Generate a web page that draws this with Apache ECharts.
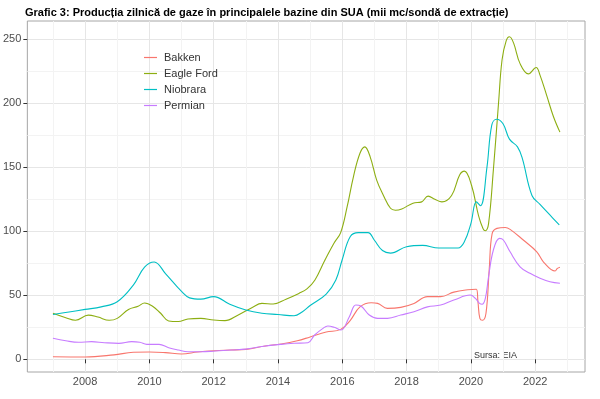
<!DOCTYPE html>
<html>
<head>
<meta charset="utf-8">
<script src="https://cdn.jsdelivr.net/npm/echarts@6/dist/echarts.min.js"></script>
<style>
  html, body { margin: 0; padding: 0; background: #fff; }
  #main { width: 600px; height: 399px; }
</style>
</head>
<body>
<div id="main"></div>
<script>
// date (decimal year), mii mc/sonda
const bakken = [
  [2007.0, 2], [2008.0, 1.8], [2008.9, 3.5], [2009.5, 5.5], [2010.0, 5.7], [2010.5, 5.2],
  [2011.0, 4.2], [2011.5, 5.7], [2012.0, 6.7], [2012.5, 7.3], [2013.0, 7.8], [2013.6, 10.4],
  [2014.1, 12], [2014.6, 14.5], [2015.0, 17.5], [2015.5, 21.3], [2015.95, 23.4], [2016.25, 30.5],
  [2016.55, 41], [2016.9, 44.2], [2017.1, 43.7], [2017.4, 39.8], [2017.82, 40.6], [2018.23, 43.7],
  [2018.65, 49], [2019.06, 49], [2019.47, 52.5], [2019.9, 54.3], [2020.17, 54.7], [2020.22, 45],
  [2020.28, 32], [2020.36, 30.5], [2020.47, 36], [2020.57, 70], [2020.66, 98], [2020.81, 102.3],
  [2021.07, 103], [2021.22, 101.5], [2021.64, 93], [2022.05, 84], [2022.26, 76], [2022.62, 69],
  [2022.69, 71], [2022.77, 72]
]
const eagleFord = [
  [2007.0, 36], [2007.4, 32.5], [2007.7, 30.5], [2008.1, 34.5], [2008.4, 33], [2008.75, 30.5],
  [2009.0, 32], [2009.35, 39], [2009.65, 41.5], [2009.85, 44], [2010.1, 41.5], [2010.35, 36],
  [2010.6, 30], [2010.9, 29.5], [2011.2, 31.5], [2011.6, 32], [2012.0, 30.7], [2012.35, 30.2],
  [2012.75, 34.5], [2013.2, 40.5], [2013.5, 43.7], [2013.85, 43.2], [2014.25, 47], [2014.65, 51.5],
  [2014.9, 55], [2015.15, 62], [2015.45, 77], [2015.75, 91], [2015.95, 99], [2016.15, 119],
  [2016.35, 143], [2016.55, 161], [2016.7, 166], [2016.87, 158], [2017.07, 140], [2017.28, 128],
  [2017.5, 118], [2017.65, 116.5], [2017.85, 117.5], [2018.2, 122], [2018.47, 123], [2018.67, 127.5],
  [2018.88, 125], [2019.1, 123], [2019.4, 128], [2019.65, 144], [2019.8, 147], [2020.02, 136],
  [2020.24, 112], [2020.38, 102], [2020.45, 100.5], [2020.55, 106], [2020.7, 148], [2020.86, 200],
  [2020.97, 234], [2021.1, 249], [2021.2, 252], [2021.33, 247], [2021.53, 231], [2021.79, 223],
  [2022.03, 228], [2022.15, 222], [2022.36, 206], [2022.57, 189.5], [2022.77, 177.5]
]
const niobrara = [
  [2007.0, 35], [2007.5, 37], [2008.0, 39], [2008.5, 41], [2009.0, 45], [2009.5, 58],
  [2009.85, 72], [2010.15, 76], [2010.5, 67], [2011.0, 53], [2011.25, 48], [2011.6, 47],
  [2012.0, 49], [2012.5, 43], [2013.0, 38.5], [2013.5, 36], [2014.0, 35], [2014.5, 34],
  [2014.75, 37], [2015.0, 42], [2015.5, 51], [2015.8, 62], [2016.0, 78], [2016.25, 96],
  [2016.5, 99], [2016.8, 99], [2017.0, 93], [2017.25, 85], [2017.5, 83], [2018.0, 88],
  [2018.5, 89], [2019.0, 87], [2019.6, 87], [2019.8, 92], [2020.0, 106], [2020.17, 123],
  [2020.3, 120], [2020.5, 150], [2020.65, 183], [2020.8, 187.5], [2021.0, 184], [2021.2, 172],
  [2021.45, 166], [2021.6, 157], [2021.9, 128], [2022.15, 121], [2022.45, 113], [2022.75, 105]
]
const permian = [
  [2007.0, 16.4], [2007.4, 14.5], [2007.8, 13.3], [2008.2, 13.8], [2008.6, 13], [2009.05, 12.5],
  [2009.45, 13.8], [2009.7, 13.3], [2009.92, 11.7], [2010.3, 11.7], [2010.6, 9.1], [2010.9, 7.3],
  [2011.2, 5.9], [2011.6, 5.9], [2012.05, 6.5], [2012.55, 7.3], [2013.0, 8], [2013.5, 10],
  [2014.1, 11.7], [2014.5, 12.5], [2014.93, 13], [2015.14, 19], [2015.4, 24.2], [2015.55, 26],
  [2015.75, 25], [2015.96, 22.9], [2016.22, 33.3], [2016.42, 42.4], [2016.58, 41.6], [2016.84, 34.6],
  [2017.1, 32], [2017.41, 32], [2017.82, 34.6], [2018.23, 37.2], [2018.65, 41], [2019.06, 42.4],
  [2019.47, 46.3], [2019.98, 50.2], [2020.14, 47.6], [2020.27, 43.7], [2020.35, 43], [2020.45, 47.6],
  [2020.55, 64.5], [2020.7, 85.4], [2020.89, 94.5], [2021.01, 93.2], [2021.22, 84], [2021.53, 72.3],
  [2021.84, 67.2], [2022.15, 63.3], [2022.46, 60.6], [2022.77, 59.4]
]

const yearTicks = [2008, 2010, 2012, 2014, 2016, 2018, 2020, 2022]
const yearGrid = [2007, 2008, 2009, 2010, 2011, 2012, 2013, 2014, 2015, 2016, 2017, 2018, 2019, 2020, 2021, 2022, 2023]
const valueTicks = [0, 50, 100, 150, 200, 250]
const valueGrid = [0, 25, 50, 75, 100, 125, 150, 175, 200, 225, 250]

const names = ['Bakken', 'Eagle Ford', 'Niobrara', 'Permian']
const colors = ['#F8766D', '#8DAE12', '#00BFC4', '#C77CFF']
const seriesData = [bakken, eagleFord, niobrara, permian]

const X_MIN = 2006.204
const X_MAX = 2023.55
const Y_MIN = -9.9
const Y_MAX = 264.3

const fontFam = '"Liberation Sans", Arial, sans-serif'

const chart = echarts.init(document.getElementById('main'), null, { renderer: 'canvas' })
chart.setOption({
  animation: false,
  backgroundColor: '#fff',
  title: {
    text: 'Grafic 3: Producția zilnică de gaze în principalele bazine din SUA (mii mc/sondă de extracție)',
    left: 20,
    top: 2,
    textStyle: { fontFamily: fontFam, fontSize: 11, fontWeight: 'bold', color: '#000' }
  },
  legend: {
    orient: 'vertical',
    left: 139,
    top: 47,
    icon: 'rect',
    itemWidth: 13,
    itemHeight: 1.2,
    itemGap: 5,
    data: names,
    textStyle: { fontFamily: fontFam, fontSize: 11, color: '#333', padding: [0, 0, 0, 2] }
  },
  grid: {
    left: 25,
    right: 15,
    top: 21,
    bottom: 27,
    show: true,
    borderColor: '#a6a6a6',
    borderWidth: 1,
    backgroundColor: '#fff'
  },
  xAxis: [
    {
      type: 'value',
      position: 'bottom',
      min: X_MIN,
      max: X_MAX,
      axisLine: { show: false },
      axisTick: { show: false, customValues: yearGrid },
      axisLabel: { show: false },
      splitLine: { show: true, lineStyle: { color: ['#f3f3f3', '#e6e6e6'], width: 1 } }
    },
    {
      type: 'value',
      position: 'bottom',
      min: X_MIN,
      max: X_MAX,
      axisLine: { show: false },
      axisTick: { show: true, length: 4, customValues: yearTicks, lineStyle: { color: '#333' } },
      axisLabel: {
        customValues: yearTicks,
        margin: 4,
        fontFamily: fontFam,
        fontSize: 11,
        color: '#4d4d4d',
        formatter: (v) => String(v)
      },
      splitLine: { show: false }
    }
  ],
  yAxis: [
    {
      type: 'value',
      position: 'left',
      min: Y_MIN,
      max: Y_MAX,
      axisLine: { show: false },
      axisTick: { show: false, customValues: valueGrid },
      axisLabel: { show: false },
      splitLine: { show: true, lineStyle: { color: ['#e6e6e6', '#f3f3f3'], width: 1 } }
    },
    {
      type: 'value',
      position: 'left',
      min: Y_MIN,
      max: Y_MAX,
      axisLine: { show: false },
      axisTick: { show: true, length: 4, customValues: valueTicks, lineStyle: { color: '#333' } },
      axisLabel: {
        customValues: valueTicks,
        margin: 6,
        fontFamily: fontFam,
        fontSize: 11,
        color: '#4d4d4d'
      },
      splitLine: { show: false }
    }
  ],
  graphic: [
    {
      type: 'text',
      left: 474,
      top: 351,
      style: { text: 'Sursa: EIA', fontFamily: fontFam, fontSize: 9, fill: '#333' }
    }
  ],
  series: names.map((name, i) => ({
    name: name,
    type: 'line',
    xAxisIndex: 0,
    yAxisIndex: 0,
    data: seriesData[i],
    smooth: 0.4,
    symbol: 'none',
    lineStyle: { color: colors[i], width: 1.1 },
    itemStyle: { color: colors[i] }
  }))
})
</script>
</body>
</html>
